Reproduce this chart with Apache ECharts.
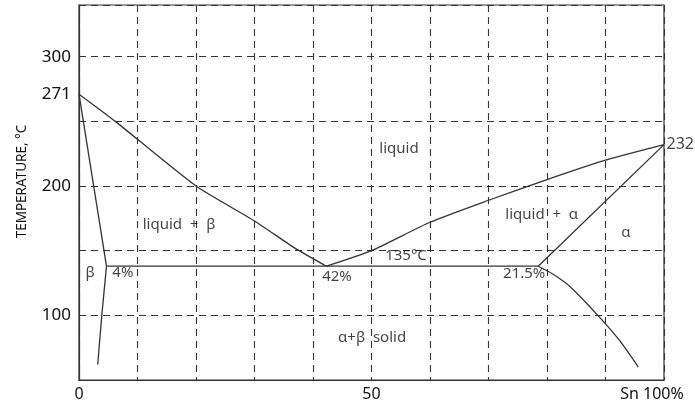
<!DOCTYPE html>
<html lang="en">
<head>
  <meta charset="UTF-8" />
  <title>Pb-Sn phase diagram</title>
  <script src="https://cdn.jsdelivr.net/npm/echarts@6.0.0/dist/echarts.min.js"></script>
  <style>
    html, body { margin: 0; padding: 0; background: #fff; }
  </style>
</head>
<body>
  <div id="main" style="width: 695px; height: 407px;"></div>
  <script type="text/javascript">
    // tick labels
    const tempTicks = [100, 200, 271, 300];
    const snTicks = { 0: '0', 50: '50', 100: 'Sn 100%' };

    // phase boundaries, [Sn %, temperature °C]
    const liquidusBeta = [[0, 271], [6.2, 250], [20, 200], [30, 173], [36.9, 152], [42.3, 138]];
    const liquidusAlpha = [[42.3, 138], [50, 150], [60, 172], [70, 189], [80, 205], [90, 220], [100, 232]];
    const solidusBeta = [[0, 271], [4.7, 138]];
    const solvusBeta = [[4.7, 138], [3.9, 100], [3.2, 62]];
    const solidusAlpha = [[78.5, 138], [100, 232]];
    const solvusAlpha = [[78.5, 138], [81, 132], [84, 122], [88.7, 100], [92.5, 80], [95.6, 60]];
    const eutectic = [[4.7, 138], [78.5, 138]];

    // region notes: [text, Sn %, temperature]
    const notes = [
      ['liquid', 54.7, 229],
      ['liquid  +  β', 17.1, 170],
      ['β', 1.9, 133],
      ['4%', 7.5, 133],
      ['42%', 44.1, 130],
      ['135°C', 55.9, 146],
      ['21.5%', 76.1, 132],
      ['liquid  +  α', 79.1, 177.5],
      ['α', 93.5, 164],
      ['α+β  solid', 50.1, 82.5]
    ];
    const meltPoints = [[100, 232, '232']];

    const lineColor = '#333';
    const textColor = '#111';
    const font = 'Noto Sans';

    function boundary(data) {
      return {
        type: 'line',
        data: data,
        showSymbol: false,
        smooth: 0.2,
        silent: true,
        animation: false,
        lineStyle: { color: lineColor, width: 1.3 }
      };
    }

    const chart = echarts.init(document.getElementById('main'));
    chart.setOption({
      animation: false,
      grid: {
        left: 79, right: 31, top: 5, bottom: 27,
        show: true, borderColor: '#333', borderWidth: 1.2,
        outerBoundsMode: 'none'
      },
      xAxis: {
        type: 'value',
        min: 0, max: 100, interval: 10,
        axisLine: { show: true, lineStyle: { color: '#333', width: 1.2 } },
        axisTick: { show: false },
        axisLabel: {
          color: textColor, fontFamily: font, fontSize: 16, margin: 6,
          showMinLabel: true, showMaxLabel: true,
          formatter: function (v) {
            if (v === 100) return '{end|' + snTicks[v] + '}';
            return snTicks[v] !== undefined ? snTicks[v] : '';
          },
          rich: { end: { fontFamily: font, fontSize: 16, color: textColor, padding: [0, 24, 0, 0] } }
        },
        splitLine: { show: true, lineStyle: { color: '#333', width: 1.1, type: [7, 5] } }
      },
      yAxis: {
        type: 'value',
        min: 50, max: 340, interval: 50,
        name: 'TEMPERATURE, °C',
        nameLocation: 'middle',
        nameRotate: 90,
        nameGap: 50,
        nameTextStyle: { color: textColor, fontFamily: font, fontSize: 13.5, padding: [0, 0, 0, 22] },
        axisLine: { show: true, lineStyle: { color: '#333', width: 1.2 } },
        axisTick: { show: false },
        axisLabel: {
          color: textColor, fontFamily: font, fontSize: 17, margin: 8,
          customValues: tempTicks
        },
        splitLine: { show: true, lineStyle: { color: '#333', width: 1.1, type: [7, 5] } }
      },
      series: [
        boundary(liquidusBeta),
        boundary(liquidusAlpha),
        boundary(solidusBeta),
        boundary(solvusBeta),
        boundary(solidusAlpha),
        boundary(solvusAlpha),
        boundary(eutectic),
        {
          type: 'scatter',
          silent: true,
          symbolSize: 1,
          itemStyle: { color: 'rgba(0,0,0,0)' },
          data: notes.map(n => ({ name: n[0], value: [n[1], n[2]] })),
          label: {
            show: true, position: 'inside', formatter: '{b}',
            color: textColor, fontFamily: font, fontSize: 15
          }
        },
        {
          type: 'scatter',
          silent: true,
          symbolSize: 1,
          clip: false,
          itemStyle: { color: 'rgba(0,0,0,0)' },
          data: meltPoints.map(p => ({ name: p[2], value: [p[0], p[1]] })),
          label: {
            show: true, position: 'right', distance: 2, formatter: '{b}',
            color: textColor, fontFamily: font, fontSize: 16
          }
        }
      ]
    });
  </script>
</body>
</html>
